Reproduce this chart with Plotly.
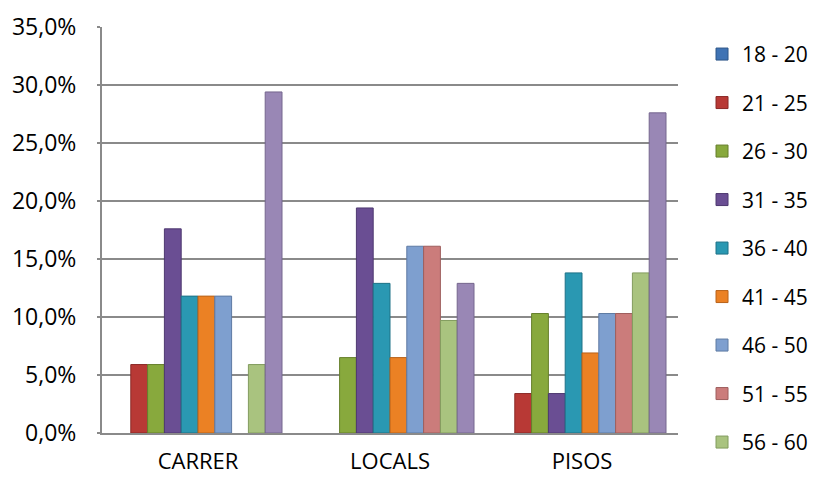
import plotly.graph_objects as go

categories = ["CARRER", "LOCALS", "PISOS"]
age_groups = ["18 - 20", "21 - 25", "26 - 30", "31 - 35", "36 - 40",
              "41 - 45", "46 - 50", "51 - 55", "56 - 60", "61 +"]

# percentage per age group for each category (CARRER, LOCALS, PISOS)
v_18_20 = [0.0, 0.0, 0.0]
v_21_25 = [5.9, 0.0, 3.4]
v_26_30 = [5.9, 6.5, 10.3]
v_31_35 = [17.6, 19.4, 3.4]
v_36_40 = [11.8, 12.9, 13.8]
v_41_45 = [11.8, 6.5, 6.9]
v_46_50 = [11.8, 16.1, 10.3]
v_51_55 = [0.0, 16.1, 10.3]
v_56_60 = [5.9, 9.7, 13.8]
v_61 = [29.4, 12.9, 27.6]

series = [v_18_20, v_21_25, v_26_30, v_31_35, v_36_40,
          v_41_45, v_46_50, v_51_55, v_56_60, v_61]

y_ticks = [0, 5, 10, 15, 20, 25, 30, 35]
y_tick_labels = ["0,0%", "5,0%", "10,0%", "15,0%", "20,0%", "25,0%", "30,0%", "35,0%"]

colors = ["#3F73B4", "#B83935", "#88A93D", "#6A4E93", "#2A98B2",
          "#EB8124", "#7E9FCF", "#CB7C7B", "#A9C37F", "#9987B5"]
edges = ["#2C5587", "#8A2826", "#667F2C", "#4E3970", "#1E7287",
         "#B8621A", "#5E7AA3", "#9E5E5D", "#829C5E", "#75668E"]

FONT = "Open Sans, Noto Sans, sans-serif"

fig = go.Figure()
for i, (name, vals) in enumerate(zip(age_groups, series)):
    fig.add_trace(go.Bar(
        x=categories, y=[v if v else None for v in vals], name=name,
        marker=dict(color=colors[i], line=dict(color=edges[i], width=1)),
        legendgroup=name,
        showlegend=(i < 9),
    ))

grid = "#8A8A8A"
fig.update_layout(
    width=810, height=470,
    margin=dict(l=94, r=140, t=19, b=45, autoexpand=False),
    paper_bgcolor="white", plot_bgcolor="white",
    barmode="group", bargap=0.125, bargroupgap=0,
    font=dict(family=FONT, size=23, color="#000000"),
    legend=dict(
        x=1.0417, xanchor="left", y=0.983, yanchor="top",
        font=dict(family=FONT, size=21, color="#000000"),
        traceorder="grouped", tracegroupgap=18.2,
        bgcolor="rgba(0,0,0,0)", borderwidth=0,
        maxheight=460,
    ),
    xaxis=dict(
        showline=True, linecolor=grid, linewidth=2,
        showgrid=False, ticks="", ticklabelstandoff=8,
        tickfont=dict(family=FONT, size=22),
    ),
    yaxis=dict(
        range=[0, 35], tickvals=y_ticks, ticktext=y_tick_labels,
        showline=True, linecolor=grid, linewidth=2,
        showgrid=True, gridcolor=grid, gridwidth=1.5,
        ticks="outside", ticklen=3, tickcolor=grid, tickwidth=1.5,
        ticklabelstandoff=16,
        tickfont=dict(family=FONT, size=23),
        zeroline=False,
    ),
)

fig.write_html("out.html")
